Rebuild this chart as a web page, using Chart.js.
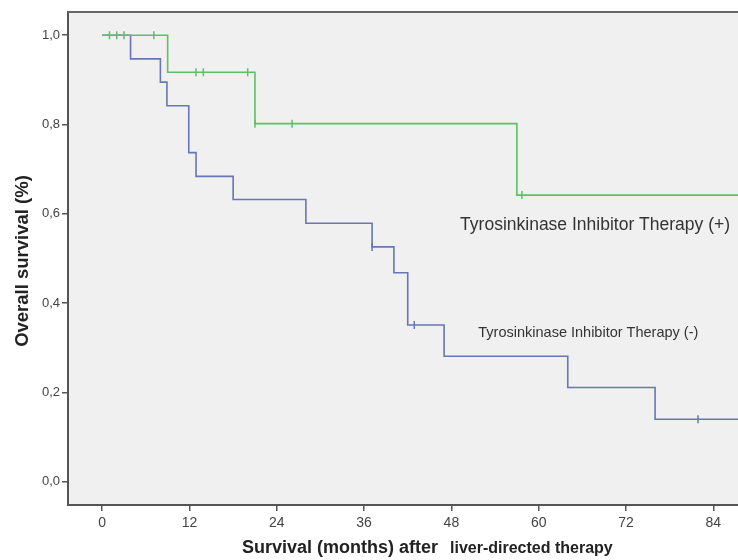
<!DOCTYPE html>
<html>
<head>
<meta charset="utf-8">
<script src="https://cdn.jsdelivr.net/npm/chart.js@4/dist/chart.umd.min.js"></script>
<style>
  html, body { margin: 0; padding: 0; background: #fff; }
  #km { display: block; }
</style>
</head>
<body>
<canvas id="km" width="738" height="560"></canvas>
<script>
// axis ticks
const xTicks = [0, 12, 24, 36, 48, 60, 72, 84]
const yTicks = [0, 0.2, 0.4, 0.6, 0.8, 1.0]

// TKI (+) : step points (time in months, survival) and censored cases
const plusTimes = [0, 9, 21, 57, 87.4]
const plusSurv = [1.0, 0.917, 0.802, 0.642, 0.642]
const plusCensorTimes = [1, 2, 3, 7.1, 12.9, 13.9, 20, 21, 26.1, 57.7]
const plusCensorSurv = [1.0, 1.0, 1.0, 1.0, 0.917, 0.917, 0.917, 0.802, 0.802, 0.642]

// TKI (-)
const minusTimes = [0, 3.9, 8, 8.9, 11.9, 12.9, 18, 28, 37.1, 40.1, 42, 47, 64, 76, 87.4]
const minusSurv = [1.0, 0.947, 0.895, 0.842, 0.737, 0.684, 0.632, 0.579, 0.526, 0.468, 0.351, 0.281, 0.211, 0.140, 0.140]
const minusCensorTimes = [37.1, 42.9, 81.9]
const minusCensorSurv = [0.526, 0.351, 0.140]

const plusLabel = 'Tyrosinkinase Inhibitor Therapy (+)'
const minusLabel = 'Tyrosinkinase Inhibitor Therapy (-)'

const green = '#5fbf65'
const blue = '#6676b6'
const axisColor = '#555'
const sans = '"Liberation Sans", Arial, sans-serif'

const toPoints = (xs, ys) => xs.map((x, i) => ({ x: x, y: ys[i] }))

const decor = {
  id: 'decor',
  beforeDraw(chart) {
    const { ctx, chartArea: a } = chart
    ctx.save()
    ctx.fillStyle = '#f0f0f0'
    ctx.fillRect(a.left, a.top, a.right - a.left, a.bottom - a.top)
    ctx.restore()
  },
  afterDraw(chart) {
    const { ctx, chartArea: a, scales } = chart
    ctx.save()
    // top frame line
    ctx.strokeStyle = '#666'
    ctx.lineWidth = 2
    ctx.beginPath()
    ctx.moveTo(a.left, a.top)
    ctx.lineTo(a.right, a.top)
    ctx.stroke()

    // curve labels
    ctx.fillStyle = '#333'
    ctx.textBaseline = 'middle'
    ctx.textAlign = 'left'
    ctx.font = '17.5px ' + sans
    ctx.fillText(plusLabel, scales.x.getPixelForValue(49.2), scales.y.getPixelForValue(0.574))
    ctx.font = '14.5px ' + sans
    ctx.fillText(minusLabel, scales.x.getPixelForValue(51.7), scales.y.getPixelForValue(0.333))

    // axis titles
    ctx.fillStyle = '#222'
    ctx.font = 'bold 18px ' + sans
    ctx.textAlign = 'right'
    ctx.fillText('Survival (months) after', 438, 548)
    ctx.textAlign = 'left'
    ctx.font = 'bold 16px ' + sans
    ctx.fillText('liver-directed therapy', 450, 549)

    ctx.translate(23, 261)
    ctx.rotate(-Math.PI / 2)
    ctx.textAlign = 'center'
    ctx.font = 'bold 18.5px ' + sans
    ctx.fillText('Overall survival (%)', 0, 0)
    ctx.restore()
  }
}

const censorSet = (xs, ys, color) => ({
  type: 'scatter',
  data: toPoints(xs, ys),
  pointStyle: 'line',
  rotation: 90,
  radius: 4,
  borderWidth: 1.5,
  borderColor: color,
  backgroundColor: color
})

const stepSet = (xs, ys, color) => ({
  type: 'line',
  data: toPoints(xs, ys),
  stepped: true,
  borderColor: color,
  borderWidth: 1.6,
  pointRadius: 0,
  fill: false
})

new Chart(document.getElementById('km'), {
  data: {
    datasets: [
      censorSet(plusCensorTimes, plusCensorSurv, green),
      stepSet(plusTimes, plusSurv, green),
      censorSet(minusCensorTimes, minusCensorSurv, blue),
      stepSet(minusTimes, minusSurv, blue)
    ]
  },
  options: {
    responsive: false,
    animation: false,
    layout: { autoPadding: false, padding: { top: 12, left: 0, right: 0, bottom: 0 } },
    plugins: { legend: false, tooltip: false },
    scales: {
      x: {
        type: 'linear',
        min: -4.7,
        max: 87.4,
        afterBuildTicks: s => { s.ticks = xTicks.map(v => ({ value: v })) },
        afterFit: s => { s.height = 55; s.paddingRight = 0 },
        ticks: {
          color: '#444',
          padding: 4,
          maxRotation: 0,
          font: { size: 14, family: sans }
        },
        grid: { drawOnChartArea: false, tickLength: 6, color: axisColor, lineWidth: 1.5 },
        border: { color: axisColor, width: 2 }
      },
      y: {
        type: 'linear',
        min: -0.052,
        max: 1.052,
        afterBuildTicks: s => { s.ticks = yTicks.map(v => ({ value: v })) },
        afterFit: s => { s.width = 68 },
        ticks: {
          color: '#444',
          padding: 2,
          font: { size: 13, family: sans },
          callback: v => v.toFixed(1).replace('.', ',')
        },
        grid: { drawOnChartArea: false, tickLength: 6, color: axisColor, lineWidth: 1.5 },
        border: { color: axisColor, width: 2 }
      }
    }
  },
  plugins: [decor]
})
</script>
</body>
</html>
